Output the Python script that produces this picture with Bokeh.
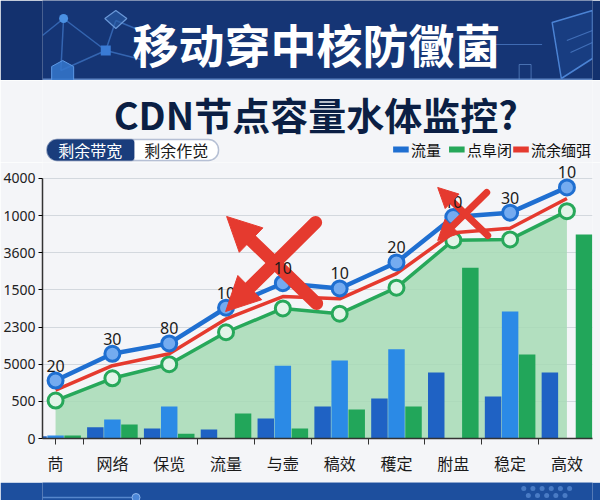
from bokeh.plotting import figure
from bokeh.models import (Range1d, FixedTicker, ColumnDataSource, LabelSet, Arrow,
                          NormalHead, BoxAnnotation)
from bokeh.layouts import column
from bokeh.transform import dodge
from bokeh.core.properties import value
from bokeh.embed import file_html
from bokeh.resources import INLINE
import math

# ---------------- data ----------------
categories = ["苘", "网络", "保览", "流量", "与壸", "稿效", "穫定", "胕盅", "稳定", "高效"]
flow = [780, 1140, 1280, 1760, 2090, 2020, 2370, 2980, 3040, 3380]          # 流量 (blue)
redline = [650, 980, 1140, 1610, 1910, 1880, 2220, 2770, 2830, 3230]       # 流余缅弭 (red)
node = [510, 810, 1000, 1430, 1750, 1680, 2030, 2670, 2680, 3060]          # 点阜闭 (green)
point_labels = ["20", "30", "80", "10", "10", "10", "20", "10", "30", "10"]
bar_dark = [30, 150, 135, 120, 270, 430, 540, 890, 565, 890]
bar_bright = [40, 255, 430, 0, 980, 1050, 1200, 0, 1710, 0]
bar_green = [40, 190, 65, 335, 135, 390, 430, 2300, 1130, 2745]
ytick_values = [0, 500, 1000, 1500, 2000, 2500, 3000, 3500]
ytick_labels = ["0", "500", "5000", "2300", "1500", "3600", "1000", "4000"]

title_text = "移动穿中核防黴菌"
subtitle_text = "CDN节点容量水体监控?"
toggle_labels = ["剩余带宽", "剩余作觉"]
legend_labels = ["流量", "点阜闭", "流余缅弭"]

CJK = value("Noto Sans CJK SC")
NAVY = "#13316e"
BG = "#f4f5f8"
BLUE = "#1f6fd1"
GREEN = "#27a85a"
RED = "#e53a2f"


def deco_fig(h, bg):
    f = figure(width=600, height=h, x_range=Range1d(0, 600), y_range=Range1d(h, 0),
               toolbar_location=None, output_backend="svg", min_border=0,
               x_axis_location=None, y_axis_location=None)
    f.grid.visible = False
    f.outline_line_color = None
    f.background_fill_color = bg
    f.border_fill_color = bg
    return f


# ---------------- top banner ----------------
top = deco_fig(80, NAVY)
top.quad(left=0, right=600, top=0, bottom=80, fill_color="#1a3f85", fill_alpha=0.35, line_color=None)
top.quad(left=0, right=600, top=78, bottom=80, fill_color="#5f86c4", line_color=None)
# left network decoration
top.multi_line(xs=[[0, 23], [23, 69], [23, 20], [69, 20], [69, 80], [80, 112], [69, 112]],
               ys=[[35, 18], [18, 50], [18, 70], [50, 70], [50, 20], [20, 32], [50, 60]],
               line_color="#4a86d8", line_alpha=0.6, line_width=1.5)
top.scatter([23], [18], size=9, fill_color="#4a90e2", line_color=None)
top.scatter([69], [50], size=10, marker="square", fill_color="#3a7bd5", line_color=None)
top.patch([10, 22, 34, 34, 22, 10], [66, 60, 66, 84, 90, 84], fill_color="#3577cc",
          fill_alpha=0.85, line_color="#5d9ae6")
top.patch([68, 80, 92, 80], [18, 10, 18, 28], fill_color="#2c5fa8", fill_alpha=0.6,
          line_color="#6a98d8", line_width=1.2)
# right server decoration
top.patch([556, 600, 600, 566], [22, 10, 58, 78], fill_color="#1b4288", fill_alpha=0.6,
          line_color="#4b83d4", line_width=1.5)
top.multi_line(xs=[[572, 600], [576, 600], [490, 545]], ys=[[40, 30], [52, 42], [44, 44]],
               line_color="#5b90dc", line_alpha=0.6, line_width=1.2)
top.quad(left=520, right=533, top=64, bottom=80, fill_color=None, line_color="#6a98d8",
         line_alpha=0.6)
top.text(x=[299], y=[42], text=[title_text], text_font=CJK, text_font_style="bold",
         text_font_size="46px", text_color="white", text_align="center",
         text_baseline="middle")

# ---------------- subtitle / toggle / legend ----------------
mid = deco_fig(82, BG)
mid.text(x=[298], y=[33], text=[subtitle_text], text_font=CJK, text_font_style="bold",
         text_font_size="38px", text_color="#0b1f44", text_align="center",
         text_baseline="middle")
mid.add_layout(BoxAnnotation(left=5, right=192, top=59, bottom=80, fill_color="white",
                             fill_alpha=1, line_color="#1a3d7c", line_width=1.5,
                             border_radius=10, level="underlay"))
mid.add_layout(BoxAnnotation(left=5, right=100, top=59, bottom=80, fill_color="#1a3d7c",
                             fill_alpha=1, line_color="#1a3d7c", line_width=1.5,
                             border_radius=(10, 3, 3, 10), level="underlay"))
mid.text(x=[52, 146], y=[69.5, 69.5], text=toggle_labels, text_font=CJK,
         text_font_size="16px", text_color=["white", "#1a1a1a"], text_align="center",
         text_baseline="middle")
mid.rect(x=[391, 452, 522], y=[69, 69, 69], width=17, height=6,
         fill_color=[BLUE, GREEN, RED], line_color=None)
mid.text(x=[402, 463, 533], y=[69, 69, 69], text=legend_labels, text_font=CJK,
         text_font_size="15px", text_color="#111111", text_align="left",
         text_baseline="middle")

# ---------------- main chart ----------------
xs = list(range(len(categories)))
src = ColumnDataSource(dict(x=xs, flow=flow, red=redline, node=node, lab=point_labels,
                            dark=bar_dark, bright=bar_bright, green=bar_green))

p = figure(width=600, height=320, x_range=Range1d(-0.23, 9.45), y_range=Range1d(0, 3715),
           toolbar_location=None, output_backend="svg",
           min_border_left=42, min_border_right=8, min_border_top=0, min_border_bottom=44)
p.background_fill_color = BG
p.border_fill_color = BG
p.outline_line_color = None

p.varea(x="x", y1=0, y2="node", source=src, fill_color="#a6dbb5", fill_alpha=0.85)
p.vbar(x=dodge("x", -0.3), top="dark", width=0.29, source=src, fill_color="#1f62c4",
       line_color=None)
p.vbar(x=dodge("x", 0.0), top="bright", width=0.29, source=src, fill_color="#2b8ae6",
       line_color=None)
p.vbar(x=dodge("x", 0.3), top="green", width=0.29, source=src, fill_color="#22a65a",
       line_color=None)

p.line("x", "node", source=src, line_color=GREEN, line_width=3.5)
p.scatter("x", "node", source=src, size=15, fill_color="#e2f4e8", line_color=GREEN,
          line_width=3)
p.line("x", "red", source=src, line_color=RED, line_width=3.5)
p.line("x", "flow", source=src, line_color=BLUE, line_width=4.5)
p.scatter("x", "flow", source=src, size=15, fill_color="#74abf0", line_color=BLUE,
          line_width=3)
p.add_layout(LabelSet(x="x", y="flow", text="lab", source=src, y_offset=9,
                      text_align="center", text_baseline="bottom", text_font_size="16px",
                      text_color="#1a1a1a", text_font=value("Noto Sans")))


# red "X" annotations (pixel-derived decoration positions)
def dx(px):
    return (px - 55) / 56.8


def dy(py):
    return (438 - py) * 3500 / 260


def cross_arrow(sx, sy, tx, ty, w, head):
    L = math.hypot(sx - tx, sy - ty)
    bx = tx + (sx - tx) * head * 0.9 / L
    by = ty + (sy - ty) * head * 0.9 / L
    p.segment(x0=[dx(sx)], y0=[dy(sy)], x1=[dx(bx)], y1=[dy(by)], line_color=RED,
              line_width=w, line_cap="round")
    p.add_layout(Arrow(end=NormalHead(size=head, fill_color=RED, line_color=RED),
                       x_start=dx(bx), y_start=dy(by), x_end=dx(tx), y_end=dy(ty),
                       line_color=RED, line_alpha=0, line_width=1))


cross_arrow(316, 303, 226, 216, 13, 34)
cross_arrow(315, 222, 225, 311, 13, 34)
cross_arrow(486, 192, 437, 240, 7, 20)
cross_arrow(487, 235, 437, 187, 7, 20)

p.xgrid.visible = False
p.ygrid.grid_line_color = "#d3d8de"
p.ygrid.grid_line_width = 1

p.yaxis.ticker = FixedTicker(ticks=ytick_values)
p.yaxis.bounds = (0, 3500)
p.yaxis.major_label_overrides = {v: l for v, l in zip(ytick_values, ytick_labels)}
p.yaxis.major_label_text_font_size = "14px"
p.yaxis.major_label_text_font = "Noto Sans"
p.yaxis.major_label_text_color = "#222222"
p.yaxis.major_tick_out = 4
p.yaxis.major_tick_in = 0
p.yaxis.minor_tick_line_color = None
p.yaxis.major_label_standoff = 3
p.yaxis.axis_line_color = "#333333"
p.yaxis.axis_line_width = 1.5

p.xaxis.ticker = FixedTicker(ticks=xs, minor_ticks=[0] + [i + 0.5 for i in range(9)])
p.xaxis.major_label_overrides = {i: c for i, c in zip(xs, categories)}
p.xaxis.major_label_text_font_size = "16px"
p.xaxis.major_label_text_font = "Noto Sans CJK SC"
p.xaxis.major_label_text_color = "#1a1a1a"
p.xaxis.major_tick_out = 0
p.xaxis.major_tick_in = 0
p.xaxis.minor_tick_out = 6
p.xaxis.minor_tick_in = 0
p.xaxis.minor_tick_line_color = "#333333"
p.xaxis.major_label_standoff = 6
p.xaxis.axis_line_color = "#333333"
p.xaxis.axis_line_width = 1.5

# ---------------- bottom banner ----------------
bot = deco_fig(18, "#1d4f9e")
bot.line([0, 98], [15, 15], line_color="#6f9ee0", line_alpha=0.7, line_width=1.5)
bot.scatter([102], [15], size=8, fill_color="#4a86d8", line_color="#8fb6ec")
bot.scatter([525, 535, 545, 555, 565, 575, 530, 540, 550, 560, 570],
            [6, 6, 6, 6, 6, 6, 13, 13, 13, 13, 13], size=5, fill_color="#5d8fd6",
            line_color=None, fill_alpha=0.7)

layout = column(top, mid, p, bot, spacing=0)
open("out.html", "w").write(file_html(layout, INLINE))
